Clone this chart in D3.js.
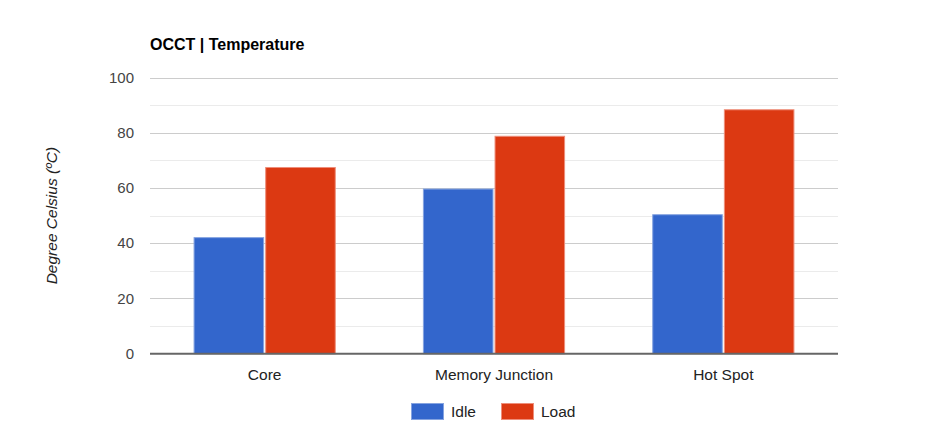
<!DOCTYPE html>
<html>
<head>
<meta charset="utf-8">
<title>OCCT | Temperature</title>
<script src="https://cdn.jsdelivr.net/npm/d3@7"></script>
<style>
  body { margin: 0; background: #fff; }
  text { font-family: Arial, "Liberation Sans", sans-serif; }
</style>
</head>
<body>
<div id="chart"></div>
<script>
// chart data
var categories = ["Core", "Memory Junction", "Hot Spot"];
var seriesNames = ["Idle", "Load"];
var idle = [42.2, 59.8, 50.5];
var load = [67.6, 78.9, 88.5];
var yTicks = [0, 20, 40, 60, 80, 100];
var yMinorTicks = [10, 30, 50, 70, 90];
var colors = ["#3366cc", "#dc3912"];
var strokes = ["#85a3e0", "#ee8e7a"];

var width = 940, height = 446;
// plot area (note: "top" is taken by window.top, so use other names)
var plotLeft = 150, plotRight = 838, plotTop = 77.5, plotBottom = 353.7;

var svg = d3.select("#chart")
  .append("svg")
  .attr("width", width)
  .attr("height", height);

var x0 = d3.scaleBand()
  .domain(categories)
  .range([plotLeft, plotRight])
  .paddingInner(0.38)
  .paddingOuter(0.19);

var x1 = d3.scaleBand()
  .domain(seriesNames)
  .range([0, x0.bandwidth()])
  .paddingInner(0.015);

var y = d3.scaleLinear()
  .domain([0, 100])
  .range([plotBottom, plotTop]);

// title
svg.append("text")
  .attr("x", 150)
  .attr("y", 49.5)
  .style("font-size", "16px")
  .style("font-weight", "bold")
  .style("fill", "#000")
  .text("OCCT | Temperature");

// minor gridlines
svg.selectAll("line.minor")
  .data(yMinorTicks)
  .enter().append("line")
  .attr("class", "minor")
  .attr("x1", plotLeft).attr("x2", plotRight)
  .attr("y1", function(d) { return Math.round(y(d)) + 0.5; })
  .attr("y2", function(d) { return Math.round(y(d)) + 0.5; })
  .style("stroke", "#ebebeb");

// major gridlines
svg.selectAll("line.major")
  .data(yTicks.slice(1))
  .enter().append("line")
  .attr("class", "major")
  .attr("x1", plotLeft).attr("x2", plotRight)
  .attr("y1", function(d) { return Math.round(y(d)) + 0.5; })
  .attr("y2", function(d) { return Math.round(y(d)) + 0.5; })
  .style("stroke", "#cccccc");

// y tick labels
svg.selectAll("text.ytick")
  .data(yTicks)
  .enter().append("text")
  .attr("class", "ytick")
  .attr("x", 134)
  .attr("y", function(d) { return y(d); })
  .attr("dy", "0.35em")
  .attr("text-anchor", "end")
  .style("font-size", "15px")
  .style("fill", "#444")
  .text(function(d) { return d; });

// y axis title
svg.append("text")
  .attr("transform", "translate(57," + ((plotTop + plotBottom) / 2) + ") rotate(-90)")
  .attr("text-anchor", "middle")
  .style("font-size", "15.5px")
  .style("font-style", "italic")
  .style("fill", "#222")
  .text("Degree Celsius (ºC)");

// bars
var groups = svg.selectAll("g.cat")
  .data(categories)
  .enter().append("g")
  .attr("class", "cat")
  .attr("transform", function(d) { return "translate(" + x0(d) + ",0)"; });

groups.selectAll("rect")
  .data(function(d, i) {
    return [{s: "Idle", v: idle[i], k: 0}, {s: "Load", v: load[i], k: 1}];
  })
  .enter().append("rect")
  .attr("x", function(d) { return x1(d.s) + 0.5; })
  .attr("width", function(d) { return x1.bandwidth() - 1; })
  .attr("y", function(d) { return y(d.v) + 0.5; })
  .attr("height", function(d) { return plotBottom - y(d.v) - 0.5; })
  .style("fill", function(d) { return colors[d.k]; })
  .style("stroke", function(d) { return strokes[d.k]; })
  .style("stroke-width", 1);

// baseline
svg.append("line")
  .attr("x1", plotLeft).attr("x2", plotRight)
  .attr("y1", plotBottom).attr("y2", plotBottom)
  .style("stroke", "#666")
  .style("stroke-width", 2);

// category labels
svg.selectAll("text.xlabel")
  .data(categories)
  .enter().append("text")
  .attr("class", "xlabel")
  .attr("x", function(d) { return x0(d) + x0.bandwidth() / 2; })
  .attr("y", 379.5)
  .attr("text-anchor", "middle")
  .style("font-size", "15.5px")
  .style("fill", "#222")
  .text(function(d) { return d; });

// legend
var legendX = [411, 501];
var legend = svg.selectAll("g.legend")
  .data(seriesNames)
  .enter().append("g")
  .attr("class", "legend")
  .attr("transform", function(d, i) { return "translate(" + legendX[i] + ",403)"; });

legend.append("rect")
  .attr("x", 0.5).attr("y", 0.5)
  .attr("width", 32).attr("height", 16)
  .style("fill", function(d, i) { return colors[i]; })
  .style("stroke", function(d, i) { return strokes[i]; });

legend.append("text")
  .attr("x", 40)
  .attr("y", 8.5)
  .attr("dy", "0.35em")
  .style("font-size", "15.5px")
  .style("fill", "#222")
  .text(function(d) { return d; });
</script>
</body>
</html>
